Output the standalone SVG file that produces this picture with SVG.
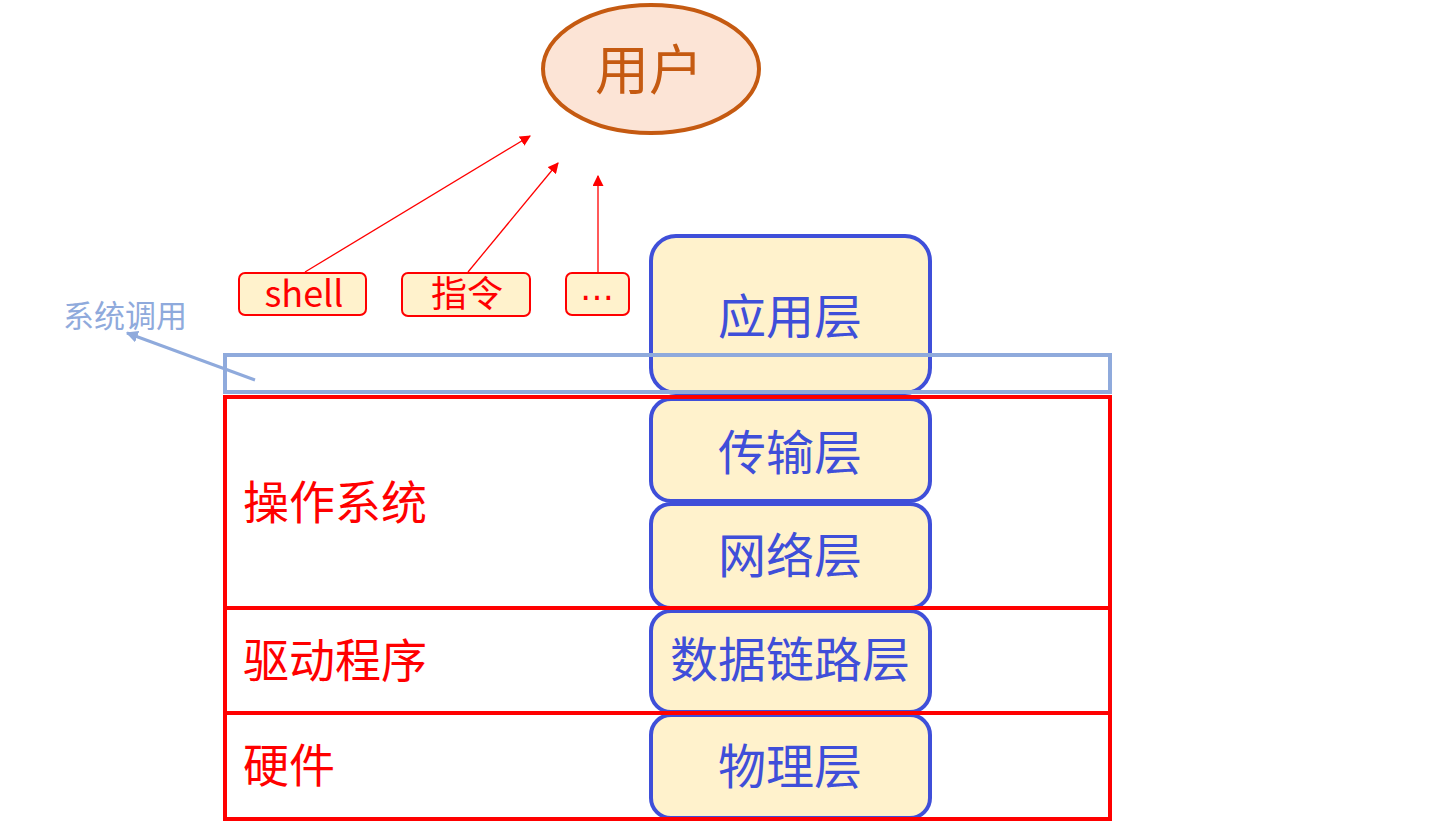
<svg xmlns="http://www.w3.org/2000/svg" width="1435" height="825" viewBox="0 0 1435 825">
<style>
.cjk{font-family:"Noto Sans CJK SC","Noto Sans",sans-serif}
.layer{fill:#fff2cc;stroke:#3f4fd9;stroke-width:4}
.ltxt{fill:#3f4fd9;font-size:48px;text-anchor:middle}
.rtxt{fill:#ff0000;font-size:46px}
.tool{fill:#fff2cc;stroke:#ff0000;stroke-width:2}
.ttxt{fill:#ff0000;font-size:36px;text-anchor:middle}
.zone{fill:none;stroke:#ff0000;stroke-width:4}
.red{stroke:#ff0000;stroke-width:1.3;fill:none}
</style>
<defs>
<marker id="ar" viewBox="0 0 10 10" refX="9" refY="5" markerWidth="11" markerHeight="11" markerUnits="userSpaceOnUse" orient="auto"><path d="M0,0 L10,5 L0,10 z" fill="#ff0000"/></marker>
<marker id="ab" viewBox="0 0 10 10" refX="9" refY="5" markerWidth="12" markerHeight="12" markerUnits="userSpaceOnUse" orient="auto"><path d="M0,0 L10,5 L0,10 z" fill="#8faadc"/></marker>
</defs>
<rect width="1435" height="825" fill="#ffffff"/>
<g id="user">
<ellipse cx="651" cy="69" rx="108" ry="64" fill="#fce4d6" stroke="#c55a11" stroke-width="4"/>
<text x="649" y="90" class="cjk" font-size="54" fill="#c55a11" text-anchor="middle">用户</text>
</g>
<g id="shell"><rect x="239" y="273" width="127" height="42" rx="6" class="tool"/><text x="304" y="307" class="cjk ttxt">shell</text></g>
<g id="cmd"><rect x="402" y="273" width="128" height="43" rx="6" class="tool"/><text x="467" y="307" class="cjk ttxt">指令</text></g>
<g id="etc"><rect x="566" y="273" width="63" height="42" rx="6" class="tool"/><text x="597" y="300" font-family="DejaVu Sans, sans-serif" font-size="34" fill="#ff0000" text-anchor="middle">…</text></g>
<g id="app"><rect x="651" y="236" width="279" height="157" rx="25" class="layer"/><text x="790" y="334" class="cjk ltxt">应用层</text></g>
<g id="transport"><rect x="651" y="399" width="279" height="102" rx="20" class="layer"/><text x="790" y="470" class="cjk ltxt">传输层</text></g>
<g id="network"><rect x="651" y="504" width="279" height="104" rx="20" class="layer"/><text x="790" y="573" class="cjk ltxt">网络层</text></g>
<g id="datalink"><rect x="651" y="611" width="279" height="101" rx="20" class="layer"/><text x="790" y="677" class="cjk ltxt" font-size="45">数据链路层</text></g>
<g id="physical"><rect x="651" y="715" width="279" height="103" rx="20" class="layer"/><text x="790" y="784" class="cjk ltxt">物理层</text></g>
<g id="syscall">
<rect x="225" y="355" width="885" height="37" fill="none" stroke="#8faadc" stroke-width="4"/>
<text x="63" y="327" class="cjk" font-size="31" fill="#8faadc">系统调用</text>
</g>
<g id="os"><rect x="225" y="397" width="885" height="211" class="zone"/><text x="243" y="519" class="cjk rtxt">操作系统</text></g>
<g id="driver"><rect x="225" y="608" width="885" height="105" class="zone"/><text x="243" y="677" class="cjk rtxt">驱动程序</text></g>
<g id="hardware"><rect x="225" y="713" width="885" height="106" class="zone"/><text x="243" y="782" class="cjk rtxt">硬件</text></g>
<g id="connectors">
<line x1="305" y1="272" x2="530" y2="136" class="red" marker-end="url(#ar)"/>
<line x1="468" y1="272" x2="558" y2="163" class="red" marker-end="url(#ar)"/>
<line x1="598" y1="272" x2="598" y2="176" class="red" marker-end="url(#ar)"/>
<line x1="255" y1="380" x2="127" y2="333" stroke="#8faadc" stroke-width="3" marker-end="url(#ab)"/>
</g>
</svg>
